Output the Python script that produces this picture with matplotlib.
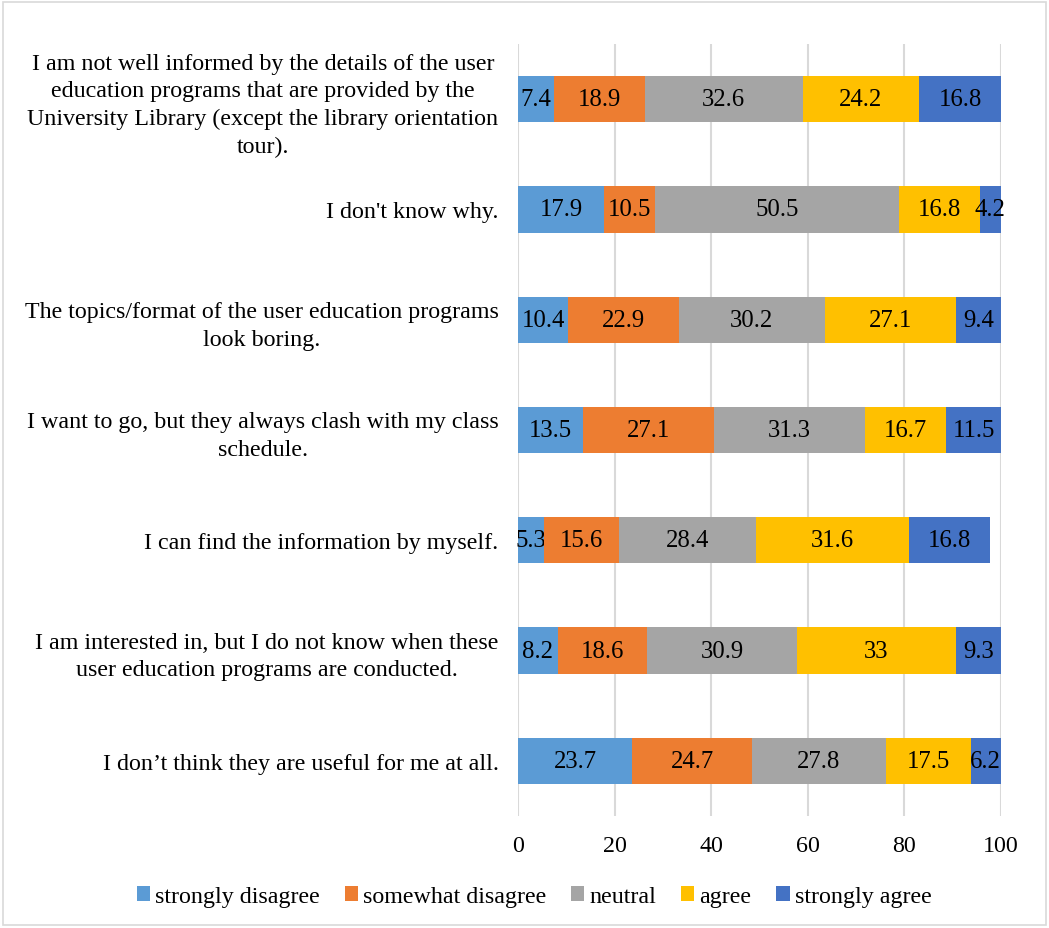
import matplotlib.pyplot as plt
from matplotlib.patches import Rectangle

plt.rcParams['font.family'] = ['Liberation Serif', 'DejaVu Serif']
plt.rcParams['font.size'] = 17.3

statements = [
    "I am not well informed by the details of the user\neducation programs that are provided by the\nUniversity Library (except the library orientation\ntour).",
    "I don't know why.",
    "The topics/format of the user education programs\nlook boring.",
    "I want to go, but they always clash with my class\nschedule.",
    "I can find the information by myself.",
    "I am interested in, but I do not know when these\nuser education programs are conducted.",
    "I don\u2019t think they are useful for me at all.",
]
categories = ["strongly disagree", "somewhat disagree", "neutral", "agree", "strongly agree"]
strongly_disagree = [7.4, 17.9, 10.4, 13.5, 5.3, 8.2, 23.7]
somewhat_disagree = [18.9, 10.5, 22.9, 27.1, 15.6, 18.6, 24.7]
neutral = [32.6, 50.5, 30.2, 31.3, 28.4, 30.9, 27.8]
agree = [24.2, 16.8, 27.1, 16.7, 31.6, 33, 17.5]
strongly_agree = [16.8, 4.2, 9.4, 11.5, 16.8, 9.3, 6.2]
series = [strongly_disagree, somewhat_disagree, neutral, agree, strongly_agree]
colors = ['#5B9BD5', '#ED7D31', '#A5A5A5', '#FFC000', '#4472C4']

fig = plt.figure(figsize=(10.49, 9.29), dpi=100)
ax = fig.add_axes([0.4938, 0.1206, 0.4605, 0.831])

# first statement at the top
ypos = list(range(len(statements)))[::-1]
left = [0.0] * len(statements)
for name, vals, col in zip(categories, series, colors):
    bars = ax.barh(ypos, vals, left=left, height=0.42, color=col, label=name, zorder=3)
    ax.bar_label(bars, labels=[f"{v:g}" for v in vals], label_type='center', fontsize=17.8)
    left = [a + b for a, b in zip(left, vals)]

ax.set_xlim(0, 100)
ax.set_ylim(-0.5, len(statements) - 0.5)
ax.set_xticks([0, 20, 40, 60, 80, 100])
ax.set_yticks(ypos)
ax.set_yticklabels(statements, multialignment='center', linespacing=1.4)
ax.tick_params(axis='both', length=0)
ax.tick_params(axis='y', pad=14)
ax.tick_params(axis='x', pad=14)
ax.grid(axis='x', color='#D9D9D9', linewidth=1.5, zorder=0)
for s in ax.spines.values():
    s.set_visible(False)

fig.legend(loc='center', bbox_to_anchor=(0.509, 0.034), ncol=5, frameon=False,
           handlelength=0.55, handleheight=0.6, handletextpad=0.2, columnspacing=1.05)

# light frame round the whole chart
fig.patches.append(Rectangle((0.003, 0.003), 0.994, 0.994, transform=fig.transFigure,
                             fill=False, edgecolor='#D9D9D9', linewidth=1.2))

fig.savefig('out.png', dpi=100)
